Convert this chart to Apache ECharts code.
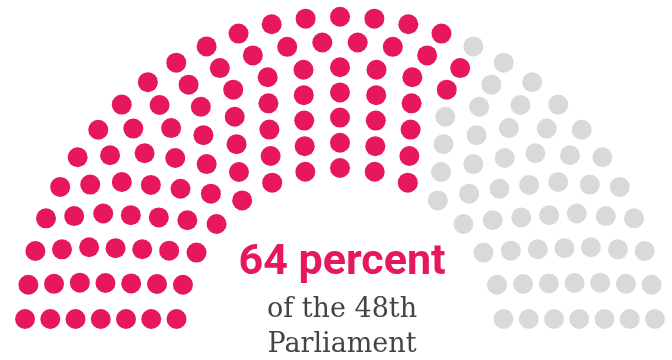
<!DOCTYPE html>
<html>
<head>
<meta charset="utf-8">
<script src="https://cdn.jsdelivr.net/npm/echarts@6/dist/echarts.min.js"></script>
<style>
  html, body { margin: 0; padding: 0; background: #ffffff; }
  #chart { width: 672px; height: 360px; }
</style>
</head>
<body>
<div id="chart"></div>
<script>
// ---- data ----
const ringSeats = [15, 17, 19, 21, 23, 26, 29];   // seats per ring, inner to outer (150 total)
const partyNames = ['Majority', 'Others'];
const partySeats = [96, 54];
const headline = '64 percent';
const subLines = ['of the 48th', 'Parliament'];

// ---- layout settings ----
const innerRadius = 164;
const ringGap = 25.2;
const baseLift = 13;   // distance of the end seats above the centre line
const polarRadius = 340;

const seats = [];
ringSeats.forEach((n, i) => {
  const r = innerRadius + i * ringGap;
  const a = Math.asin(baseLift / r) * 180 / Math.PI;
  const step = (180 - 2 * a) / (n - 1);
  for (let k = 0; k < n; k++) {
    seats.push([r, a + k * step]);
  }
});
seats.sort((p, q) => p[1] - q[1]);

const partyData = [];
let idx = 0;
partySeats.forEach(count => {
  partyData.push(seats.slice(idx, idx + count));
  idx += count;
});

const colors = ['#E6175C', '#D9D9D9'];

const chart = echarts.init(document.getElementById('chart'), null, { renderer: 'canvas' });
chart.setOption({
  animation: false,
  polar: { center: [340, 332], radius: polarRadius },
  angleAxis: {
    type: 'value', min: 0, max: 360, startAngle: 180, clockwise: true,
    show: false
  },
  radiusAxis: { type: 'value', min: 0, max: polarRadius, show: false },
  series: partyData.map((d, i) => ({
    name: partyNames[i],
    type: 'scatter',
    coordinateSystem: 'polar',
    symbol: 'circle',
    symbolSize: 20,
    clip: false,
    itemStyle: { color: colors[i], opacity: 1 },
    data: d
  })),
  graphic: [
    {
      type: 'text',
      x: 342, y: 263,
      style: {
        text: headline,
        font: 'bold 43px "Liberation Sans Narrow", "Roboto", sans-serif',
        fill: '#E6175C',
        textAlign: 'center', textVerticalAlign: 'middle'
      }
    },
    {
      type: 'text',
      x: 342, y: 310,
      style: {
        text: subLines[0],
        font: '27px "DejaVu Serif", serif',
        fill: '#444444',
        textAlign: 'center', textVerticalAlign: 'middle'
      }
    },
    {
      type: 'text',
      x: 342, y: 345,
      style: {
        text: subLines[1],
        font: '27px "DejaVu Serif", serif',
        fill: '#444444',
        textAlign: 'center', textVerticalAlign: 'middle'
      }
    }
  ]
});
</script>
</body>
</html>
